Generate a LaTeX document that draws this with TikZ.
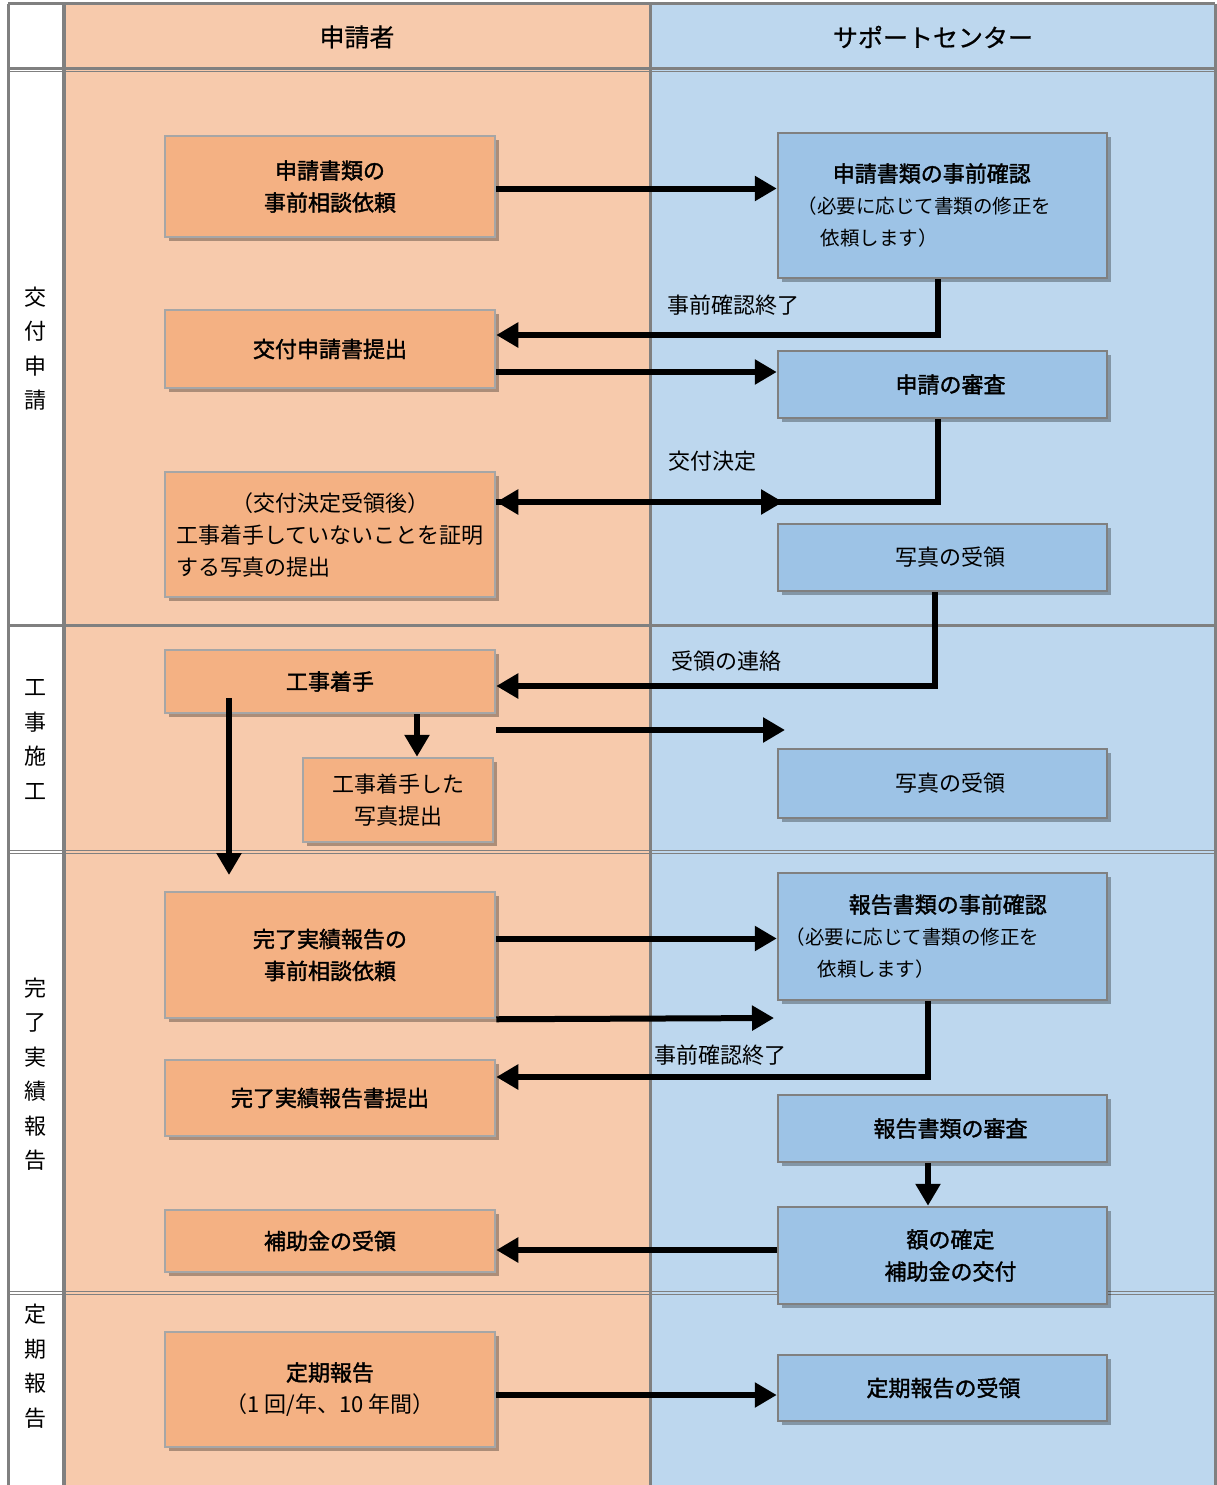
\documentclass[tikz,border=0pt]{standalone}
\usepackage{fontspec}
\setmainfont{Noto Sans CJK JP}[BoldFont={Noto Sans CJK JP},BoldFeatures={FakeBold=1.6}]
\newfontfamily\hdrfont{Noto Sans CJK JP}[FakeBold=0.7]
\usetikzlibrary{arrows.meta,shadows}
\definecolor{bgO}{HTML}{F7CAAC}
\definecolor{bgB}{HTML}{BDD7EE}
\definecolor{bxO}{HTML}{F4B183}
\definecolor{bxB}{HTML}{9DC3E6}
\definecolor{gridc}{HTML}{808080}
\definecolor{bdO}{HTML}{A6A6A6}
\definecolor{bdB}{HTML}{808080}
\begin{document}
\begin{tikzpicture}[x=1pt,y=-1pt,
  font=\fontsize{22}{32}\selectfont,
  shadowed/.style={drop shadow={shadow xshift=4pt,shadow yshift=-4pt,opacity=0.3,fill=black}},
  obox/.style={draw=bdO, fill=bxO, line width=2.5pt, shadowed, inner sep=0pt, align=center},
  bbox/.style={draw=bdB, fill=bxB, line width=2.5pt, shadowed, inner sep=0pt, align=center},
  bftext/.style={font=\fontsize{22}{32}\selectfont\bfseries},
  rowlbl/.style={align=center, font=\fontsize{22}{34.5}\selectfont},
  hdr/.style={font=\hdrfont\fontsize{25}{28}\selectfont},
  arr/.style={line width=6pt, line join=miter, -{Triangle[length=22pt,width=24pt]}},
  gline/.style={draw=gridc, line width=3pt}]
\useasboundingbox (0,0) rectangle (1217,1485);
\fill[white] (0,0) rectangle (1217,1485);
\fill[bgO] (64,4) rectangle (650,1485);
\fill[bgB] (650,4) rectangle (1215,1485);
% grid
\draw[gline] (8,4) -- (1215,4);
\draw[gline] (8,4) -- (8,1485);
\draw[gline, line width=4pt] (64,4) -- (64,1485);
\draw[gline] (650,4) -- (650,1485);
\draw[gline] (1215,4) -- (1215,1485);
\draw[gline, line width=2.5pt] (8,68.5) -- (1215,68.5);
\draw[gline, line width=1.2pt] (8,71.8) -- (1215,71.8);
\draw[gline] (8,625.5) -- (1215,625.5);
\draw[gline, line width=1.3pt] (8,850.7) -- (1215,850.7);
\draw[gline, line width=1.3pt] (8,853.6) -- (1215,853.6);
\draw[gline, line width=1.3pt] (8,1291.5) -- (1215,1291.5);
\draw[gline, line width=1.3pt] (8,1294.5) -- (1215,1294.5);
% headers
\node[hdr] (h1) at (357,37) {申請者};
\node[hdr] (h2) at (933,37) {サポートセンター};
% row labels
\node[rowlbl] (r1) at (35,348.5) {交\\付\\申\\請};
\node[rowlbl] (r2) at (35,739.5) {工\\事\\施\\工};
\node[rowlbl] (r3) at (35,1074) {完\\了\\実\\績\\報\\告};
\node[rowlbl] (r4) at (35,1366) {定\\期\\報\\告};
% applicant boxes
\node[obox, bftext, minimum width=330pt, minimum height=101pt] (a1) at (330,186.5) {申請書類の\\事前相談依頼};
\node[obox, bftext, minimum width=330pt, minimum height=78pt] (a2) at (330,349) {交付申請書提出};
\node[obox, align=left, minimum width=330pt, minimum height=125pt] (a3) at (330,534.5) {\hspace*{55pt}（交付決定受領後）\\工事着手していないことを証明\\する写真の提出};
\node[obox, bftext, minimum width=330pt, minimum height=63pt] (a4) at (330,681.5) {工事着手};
\node[obox, minimum width=190pt, minimum height=84pt] (a5) at (398,800) {工事着手した\\写真提出};
\node[obox, bftext, minimum width=330pt, minimum height=126pt] (a6) at (330,955) {完了実績報告の\\事前相談依頼};
\node[obox, bftext, minimum width=330pt, minimum height=76pt] (a7) at (330,1098) {完了実績報告書提出};
\node[obox, bftext, minimum width=330pt, minimum height=62pt] (a8) at (330,1241) {補助金の受領};
\node[obox, minimum width=330pt, minimum height=115pt] (a9) at (330,1389.5) {\textbf{定期報告}\\（1 回/年、10 年間）};
% support boxes
\node[bbox, align=left, minimum width=329pt, minimum height=145pt] (b1) at (942.5,205.5)
  {\hspace*{35pt}{\fontsize{22}{32}\selectfont\bfseries 申請書類の事前確認}\\
   {\fontsize{19.5}{31}\selectfont （必要に応じて書類の修正を}\hspace*{36pt}\mbox{}\\
   {\fontsize{19.5}{31}\selectfont \hspace*{23pt}依頼します）}};
\node[bbox, bftext, minimum width=329pt, minimum height=67pt] (b2) at (942.5,384.5) {\hspace*{16pt}申請の審査};
\node[bbox, minimum width=329pt, minimum height=67pt] (b3) at (942.5,557.5) {\hspace*{16pt}写真の受領};
\node[bbox, minimum width=329pt, minimum height=69pt] (b4) at (942.5,783.5) {\hspace*{16pt}写真の受領};
\node[bbox, align=left, minimum width=329pt, minimum height=127pt] (b5) at (942.5,936.5)
  {\hspace*{63pt}{\fontsize{22}{32}\selectfont\bfseries 報告書類の事前確認}\\
   {\fontsize{19.5}{31}\selectfont （必要に応じて書類の修正を}\hspace*{60pt}\mbox{}\\
   {\fontsize{19.5}{31}\selectfont \hspace*{32pt}依頼します）}};
\node[bbox, bftext, minimum width=329pt, minimum height=67pt] (b6) at (942.5,1128.5) {\hspace*{16pt}報告書類の審査};
\node[bbox, bftext, minimum width=329pt, minimum height=97pt] (b7) at (942.5,1255.5) {\hspace*{16pt}額の確定\\\hspace*{16pt}補助金の交付};
\node[bbox, bftext, minimum width=329pt, minimum height=66pt] (b8) at (942.5,1388) {\hspace*{2pt}定期報告の受領};
% free ends
\coordinate (p1) at (783,502);
\coordinate (p2) at (785,730);
\coordinate (p3) at (229,875);
\coordinate (p4) at (774,1018);
% arrows
\draw[arr] ([yshift=-2pt]a1.east) -- ([yshift=-2pt]a1.east -| b1.west);
\draw[arr] ([xshift=-4.5pt]b1.south) |- ([yshift=14pt]a2.east);
\draw[arr] ([yshift=-23pt]a2.east) -- ([yshift=-23pt]a2.east -| b2.west);
\draw[arr] ([yshift=32.5pt]a3.east) -- (p1);
\draw[arr] ([xshift=-4.5pt]b2.south) |- ([yshift=32.5pt]a3.east);
\draw[arr] ([xshift=-7.5pt]b3.south) |- ([yshift=-4.5pt]a4.east);
\draw[arr] ([yshift=-48.5pt]a4.east) -- (p2);
\draw[arr] ([xshift=19pt]a5.north |- a4.south) -- ([xshift=19pt]a5.north);
\draw[arr] ([xshift=-101pt,yshift=-16.5pt]a4.center) -- (p3);
\draw[arr] ([yshift=-2pt]a6.east |- b5.west) -- ([yshift=-2pt]b5.west);
\draw[arr] (a6.south east) -- (p4);
\draw[arr] ([xshift=-14.5pt]b5.south) |- ([yshift=21pt]a7.east);
\draw[arr] ([xshift=-14.5pt]b6.south) -- ([xshift=-14.5pt]b7.north);
\draw[arr] ([yshift=5.5pt]b7.west) -- ([yshift=5.5pt]b7.west -| a8.east);
\draw[arr] ([yshift=-5.5pt]a9.east) -- ([yshift=-5.5pt]a9.east -| b8.west);
% connector labels
\node (l1) at (733,305) {事前確認終了};
\node (l2) at (712,461) {交付決定};
\node (l3) at (726,661) {受領の連絡};
\node (l4) at (720,1055) {事前確認終了};
\end{tikzpicture}
\end{document}
